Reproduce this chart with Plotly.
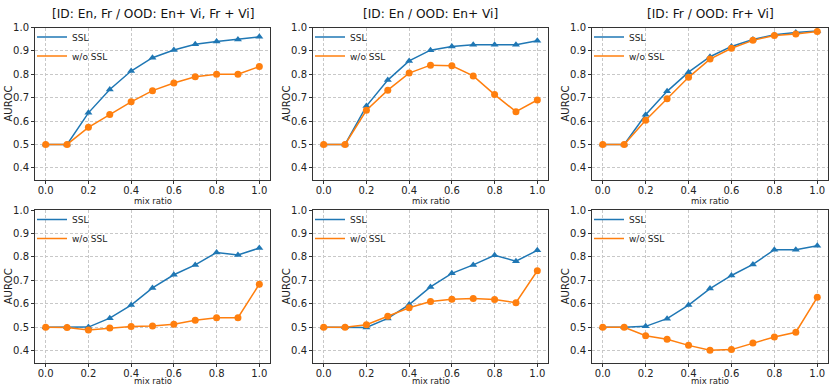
import plotly.graph_objects as go

mix_ratio = [0.0, 0.1, 0.2, 0.3, 0.4, 0.5, 0.6, 0.7, 0.8, 0.9, 1.0]

titles = [
    "[ID: En, Fr / OOD: En+ Vi, Fr + Vi]",
    "[ID: En / OOD: En+ Vi]",
    "[ID: Fr / OOD: Fr+ Vi]",
    "", "", "",
]

# top row
ssl_1 = [0.500, 0.500, 0.635, 0.735, 0.814, 0.871, 0.904, 0.928, 0.940, 0.949, 0.960]
wo_ssl_1 = [0.500, 0.500, 0.573, 0.628, 0.682, 0.730, 0.763, 0.789, 0.800, 0.800, 0.833]
ssl_2 = [0.500, 0.500, 0.664, 0.775, 0.857, 0.903, 0.919, 0.926, 0.926, 0.926, 0.943]
wo_ssl_2 = [0.500, 0.500, 0.646, 0.732, 0.805, 0.839, 0.836, 0.793, 0.713, 0.640, 0.690]
ssl_3 = [0.500, 0.500, 0.627, 0.727, 0.809, 0.875, 0.919, 0.949, 0.969, 0.979, 0.985]
wo_ssl_3 = [0.500, 0.500, 0.603, 0.695, 0.787, 0.865, 0.911, 0.945, 0.966, 0.972, 0.983]
# bottom row
ssl_4 = [0.500, 0.500, 0.501, 0.539, 0.595, 0.668, 0.724, 0.766, 0.819, 0.808, 0.838]
wo_ssl_4 = [0.500, 0.499, 0.489, 0.497, 0.503, 0.506, 0.513, 0.530, 0.541, 0.541, 0.684]
ssl_5 = [0.500, 0.500, 0.499, 0.538, 0.597, 0.672, 0.730, 0.766, 0.807, 0.782, 0.828]
wo_ssl_5 = [0.500, 0.500, 0.511, 0.547, 0.583, 0.610, 0.620, 0.623, 0.618, 0.605, 0.741]
ssl_6 = [0.500, 0.500, 0.504, 0.537, 0.595, 0.665, 0.721, 0.768, 0.831, 0.831, 0.848]
wo_ssl_6 = [0.500, 0.500, 0.464, 0.449, 0.423, 0.402, 0.405, 0.433, 0.459, 0.479, 0.628]

ssl_all = [ssl_1, ssl_2, ssl_3, ssl_4, ssl_5, ssl_6]
wo_all = [wo_ssl_1, wo_ssl_2, wo_ssl_3, wo_ssl_4, wo_ssl_5, wo_ssl_6]

yticks = [0.4, 0.5, 0.6, 0.7, 0.8, 0.9, 1.0]
xticks = [0.0, 0.2, 0.4, 0.6, 0.8, 1.0]

BLUE = "#1f77b4"
ORANGE = "#ff7f0e"
FONT = "DejaVu Sans"
W, H = 830, 389

# panel boxes in pixels (left, right, top, bottom)
cols_px = [(35, 270), (313, 548), (592, 828)]
rows_px = [(27.5, 179.5), (210, 362.5)]
xlabel_px = [200.5, 381]

fig = go.Figure()
layout = {}
for i in range(6):
    r, c = divmod(i, 3)
    n = "" if i == 0 else str(i + 1)
    x0, x1 = cols_px[c]
    y0, y1 = rows_px[r]
    xd = [x0 / W, x1 / W]
    yd = [1 - y1 / H, 1 - y0 / H]
    axstyle = dict(
        showline=True, mirror=True, linecolor="#333333", linewidth=1,
        ticks="outside", ticklen=3, tickcolor="#333333", automargin=False,
        showgrid=True, gridcolor="#c8c8c8", gridwidth=0.8, griddash="3px,2px",
        zeroline=False, tickfont=dict(family=FONT, size=10, color="#222"),
    )
    layout["xaxis" + n] = dict(axstyle, domain=xd, range=[-0.05, 1.05],
                               tickvals=xticks, ticktext=["%.1f" % t for t in xticks],
                               ticklabelstandoff=-2, anchor="y" + n)
    layout["yaxis" + n] = dict(axstyle, domain=yd, range=[0.35, 1.0],
                               tickvals=yticks, ticktext=["%.1f" % t for t in yticks],
                               anchor="x" + n)
    leg = "legend" + n
    layout[leg] = dict(x=xd[0] - 3 / W, y=yd[1] + 5 / H, xanchor="left", yanchor="top",
                       bgcolor="rgba(0,0,0,0)", font=dict(family=FONT, size=9, color="#222"),
                       itemwidth=30, tracegroupgap=0)

    fig.add_trace(go.Scatter(x=mix_ratio, y=ssl_all[i], mode="lines+markers",
                             line=dict(color=BLUE, width=1.5),
                             marker=dict(symbol="triangle-up", size=7, color=BLUE),
                             xaxis="x" + n, yaxis="y" + n, showlegend=False))
    fig.add_trace(go.Scatter(x=mix_ratio, y=wo_all[i], mode="lines+markers",
                             line=dict(color=ORANGE, width=1.5),
                             marker=dict(symbol="circle", size=7, color=ORANGE),
                             xaxis="x" + n, yaxis="y" + n, showlegend=False))
    # legend entries (lines only)
    fig.add_trace(go.Scatter(x=[None], y=[None], mode="lines", name="SSL",
                             line=dict(color=BLUE, width=1.5),
                             xaxis="x" + n, yaxis="y" + n, legend=leg))
    fig.add_trace(go.Scatter(x=[None], y=[None], mode="lines", name="w/o SSL",
                             line=dict(color=ORANGE, width=1.5),
                             xaxis="x" + n, yaxis="y" + n, legend=leg))

annotations = []
for i in range(6):
    r, c = divmod(i, 3)
    x0, x1 = cols_px[c]
    y0, y1 = rows_px[r]
    if titles[i]:
        annotations.append(dict(text=titles[i], x=(x0 + x1) / 2 / W, y=1 - 14 / H,
                                xref="paper", yref="paper", showarrow=False,
                                xanchor="center", yanchor="middle",
                                font=dict(family=FONT, size=12.2, color="#111")))
    annotations.append(dict(text="mix ratio", x=(x0 + 10 + x1 - 10) / 2 / W,
                            y=1 - xlabel_px[r] / H, xref="paper", yref="paper",
                            xanchor="center", yanchor="middle",
                            showarrow=False, font=dict(family=FONT, size=8.5, color="#222")))
    annotations.append(dict(text="AUROC", x=(x0 - 27) / W, y=1 - (y0 + y1) / 2 / H,
                            xref="paper", yref="paper", showarrow=False, textangle=-90,
                            xanchor="center", yanchor="middle",
                            font=dict(family=FONT, size=10, color="#222")))

fig.update_layout(
    width=W, height=H,
    margin=dict(l=0, r=0, t=0, b=0, autoexpand=False),
    paper_bgcolor="white", plot_bgcolor="white",
    annotations=annotations,
    **layout,
)

fig.write_html("out.html", config={"displayModeBar": False},
               post_script="document.body.style.margin = '0';")
